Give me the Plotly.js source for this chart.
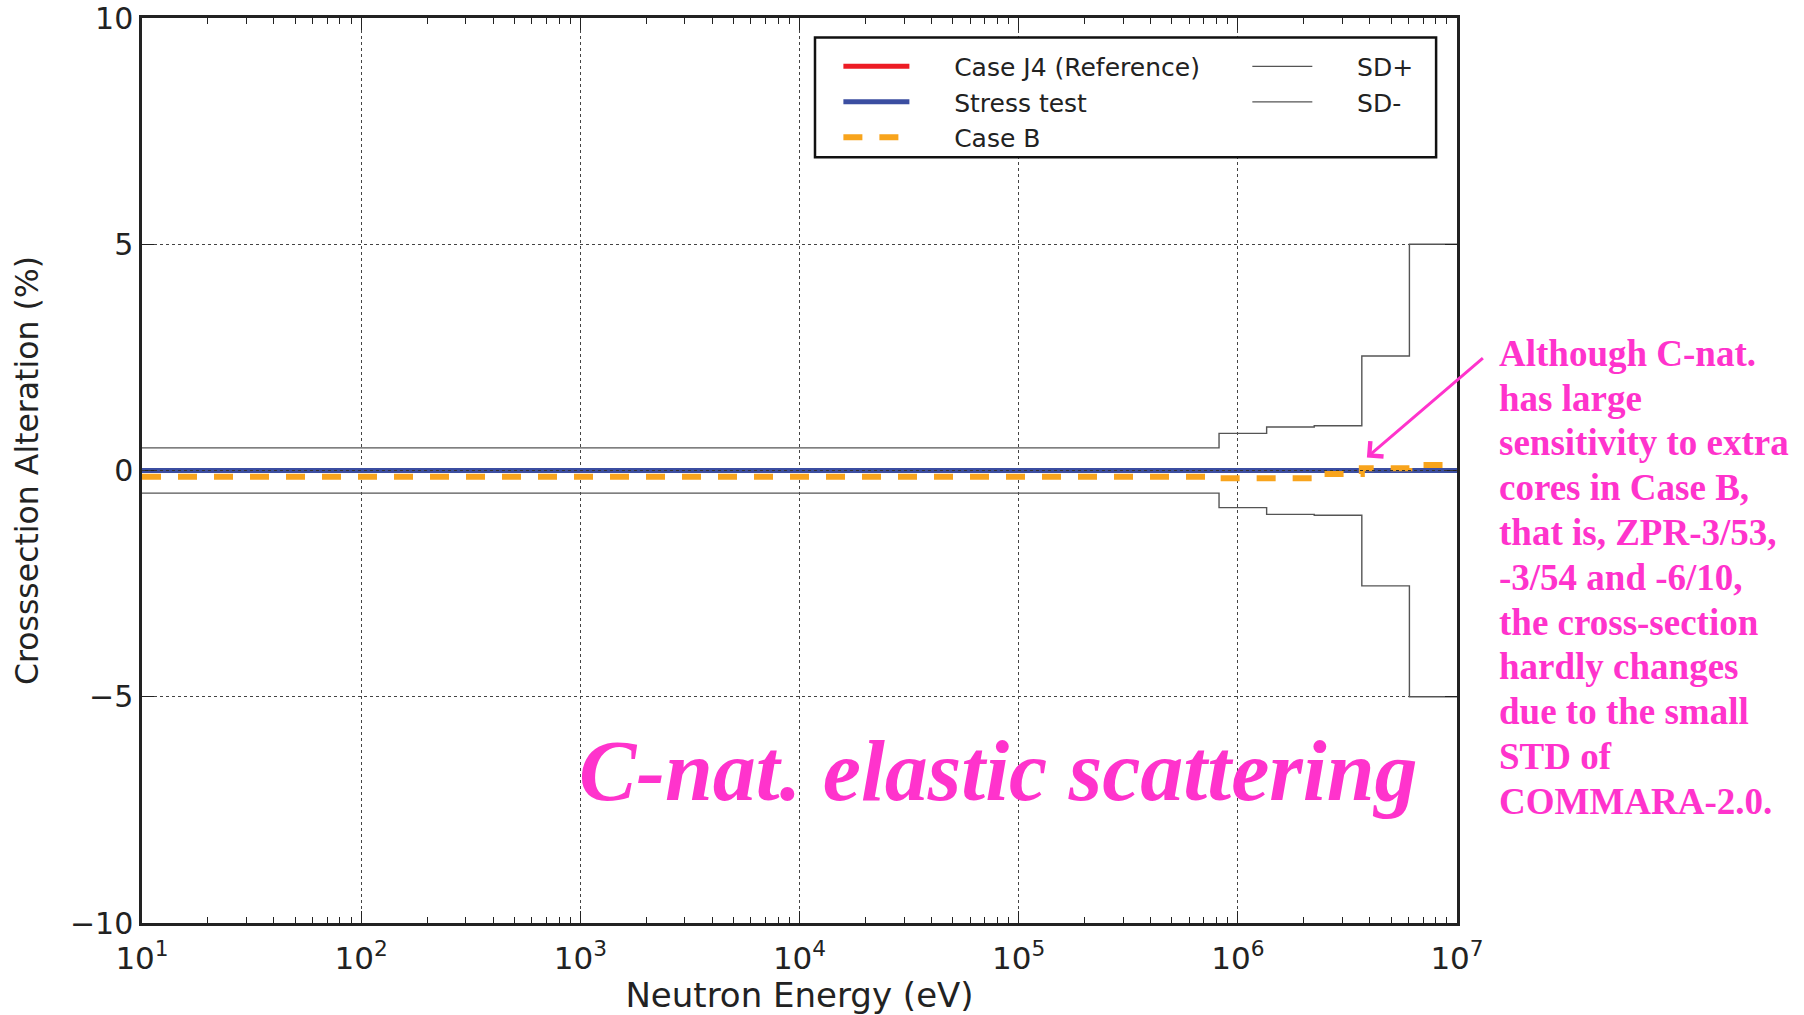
<!DOCTYPE html>
<html><head><meta charset="utf-8">
<script src="https://cdn.plot.ly/plotly-3.0.1.min.js"></script>
<style>html,body{margin:0;padding:0;background:#fff;} #chart{width:1804px;height:1015px;}</style>
</head><body><div id="chart"></div>
<script>
// ---- data ----
const groupEdges = [10, 8.2085e5, 1.3534e6, 2.2313e6, 3.6788e6, 6.0653e6, 1e7]; // eV
const caseJ4     = [0, 0, 0, 0, 0, 0, 0];
const stressTest = [0, 0, 0, 0, 0, 0, 0];
const caseB      = [-0.14, -0.17, -0.17, -0.08, 0.05, 0.12, 0.12];
const sdPlus     = [0.5, 0.82, 0.96, 0.99, 2.53, 5.0, 5.0];
const sdMinus    = [-0.5, -0.82, -0.97, -0.99, -2.55, -5.0, -5.0];
const seriesNames = ['Case J4 (Reference)', 'Stress test', 'Case B', 'SD+', 'SD-'];
const xTickVals = [10, 100, 1e3, 1e4, 1e5, 1e6, 1e7];
const xTickText = ['10<sup>1</sup>', '10<sup>2</sup>', '10<sup>3</sup>', '10<sup>4</sup>', '10<sup>5</sup>', '10<sup>6</sup>', '10<sup>7</sup>'];
const yTickVals = [-10, -5, 0, 5, 10];
const xTitle = 'Neutron Energy (eV)';
const yTitle = 'Crosssection Alteration (%)';
const plotLabel = 'C-nat. elastic scattering';
const noteLines = ['Although C-nat.', 'has large', 'sensitivity to extra', 'cores in Case B,',
  'that is, ZPR-3/53,', '-3/54 and -6/10,', 'the cross-section', 'hardly changes',
  'due to the small', 'STD of', 'COMMARA-2.0.'];
const arrowTarget = {energy: 3.88e6, value: 0.29};

// ---- layout helpers ----
const W = 1804, H = 1015;
const M = {l: 141.5, r: 347.3, t: 18.4, b: 92.3};
const PW = W - M.l - M.r, PH = H - M.t - M.b;
const px = x => (x - M.l) / PW;
const py = y => 1 - (y - M.t) / PH;
const pad = '\u00a0\u00a0\u00a0\u00a0\u00a0';
const PINK = '#ff33cc';
const minorVals = [];
for (let d = 1; d < 7; d++) for (let m = 2; m <= 9; m++) minorVals.push(m * Math.pow(10, d));

const traces = [
  {x: groupEdges, y: caseJ4, name: pad + seriesNames[0], mode: 'lines', line: {shape: 'hv', color: '#ed1c24', width: 5}, legend: 'legend'},
  {x: groupEdges, y: stressTest, name: pad + seriesNames[1], mode: 'lines', line: {shape: 'hv', color: '#3b4ea1', width: 5}, legend: 'legend'},
  {x: groupEdges, y: caseB, name: pad + seriesNames[2], mode: 'lines', line: {shape: 'hv', color: '#f8a41c', width: 6, dash: '19px,17px'}, legend: 'legend'},
  {x: groupEdges, y: sdPlus, name: pad + seriesNames[3], mode: 'lines', line: {shape: 'hv', color: '#555', width: 1.4}, legend: 'legend2'},
  {x: groupEdges, y: sdMinus, name: pad + seriesNames[4], mode: 'lines', line: {shape: 'hv', color: '#555', width: 1.4}, legend: 'legend2'}
];

const axisFont = {family: 'DejaVu Sans', size: 30, color: '#222'};
const annotations = [
  {xref: 'paper', yref: 'paper', x: px(998), y: py(771), xanchor: 'center', yanchor: 'middle',
   text: plotLabel, showarrow: false,
   font: {family: 'Liberation Serif', size: 86, color: PINK, weight: 'bold', style: 'italic'}},
  {xref: 'x', yref: 'y', x: Math.log10(arrowTarget.energy), y: arrowTarget.value, text: '',
   showarrow: true, ax: 117.5, ay: -100.6, arrowcolor: PINK, arrowwidth: 3, arrowhead: 4, arrowsize: 1.3, standoff: 0}
];
noteLines.forEach((t, i) => annotations.push({
  xref: 'paper', yref: 'paper', x: px(1497), y: py(353.5 + 44.75 * i), xanchor: 'left', yanchor: 'middle',
  text: t, showarrow: false, font: {family: 'Liberation Serif', size: 37, color: PINK, weight: 'bold'}
}));

const layout = {
  width: W, height: H, margin: M, paper_bgcolor: '#fff', plot_bgcolor: '#fff',
  showlegend: true,
  xaxis: {
    type: 'log', range: [1, 7], tickmode: 'array', tickvals: xTickVals, ticktext: xTickText,
    ticks: 'inside', ticklen: 12, tickwidth: 1.3, tickcolor: '#222', mirror: 'ticks',
    showline: true, linewidth: 2.5, linecolor: '#222',
    showgrid: true, gridcolor: '#444', gridwidth: 1.2, griddash: '3px,3px', zeroline: false,
    tickfont: {family: 'DejaVu Sans', size: 31, color: '#222'}, ticklabelstandoff: 6,
    minor: {tickmode: 'array', tickvals: minorVals, ticks: 'inside', ticklen: 6, tickwidth: 1.1, tickcolor: '#222', showgrid: false},
    title: {text: xTitle, font: {family: 'DejaVu Sans', size: 34, color: '#222'}, standoff: 6},
    automargin: false
  },
  yaxis: {
    range: [-10, 10], tickmode: 'array', tickvals: yTickVals,
    ticks: 'inside', ticklen: 12, tickwidth: 1.3, tickcolor: '#222', mirror: 'ticks',
    showline: true, linewidth: 2.5, linecolor: '#222',
    showgrid: true, gridcolor: '#444', gridwidth: 1.2, griddash: '3px,3px', zeroline: false,
    tickfont: axisFont,
    title: {text: yTitle, font: {family: 'DejaVu Sans', size: 31.5, color: '#222'}, standoff: 22},
    automargin: false
  },
  legend: {x: px(838), y: py(44), xanchor: 'left', yanchor: 'top', bgcolor: 'rgba(0,0,0,0)', borderwidth: 0,
           itemwidth: 66, font: {family: 'DejaVu Sans', size: 25, color: '#222'}, tracegroupgap: 0},
  legend2: {x: px(1247), y: py(44), xanchor: 'left', yanchor: 'top', bgcolor: 'rgba(0,0,0,0)', borderwidth: 0,
            itemwidth: 60, font: {family: 'DejaVu Sans', size: 25, color: '#222'}, tracegroupgap: 0},
  shapes: [
    {type: 'line', xref: 'paper', yref: 'y', x0: 0, x1: 1, y0: 0, y1: 0, layer: 'above',
     line: {color: '#333', width: 1, dash: '3px,3px'}},
    {type: 'rect', xref: 'paper', yref: 'paper', x0: px(814.6), x1: px(1435.8), y0: py(157.6), y1: py(38),
     layer: 'above', fillcolor: '#fff', line: {color: '#111', width: 2.5}}
  ],
  annotations: annotations
};

Plotly.newPlot('chart', traces, layout, {displayModeBar: false, responsive: false});
</script>
</body></html>
